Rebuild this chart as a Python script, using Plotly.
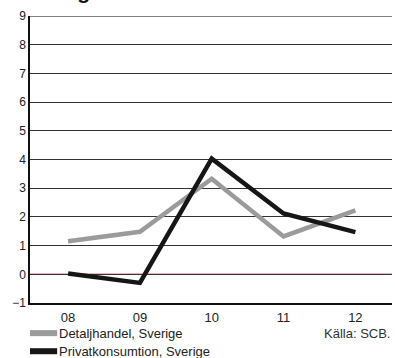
import plotly.graph_objects as go

years = ["08", "09", "10", "11", "12"]
detaljhandel = [1.15, 1.48, 3.33, 1.32, 2.23]
privatkonsumtion = [0.03, -0.3, 4.03, 2.12, 1.47]
y_ticks = list(range(-1, 10))

FONT = "Liberation Sans, Arial, sans-serif"
xs = list(range(len(years)))

fig = go.Figure()
fig.add_trace(go.Scatter(x=xs, y=detaljhandel, mode="lines", name="Detaljhandel, Sverige",
                         line=dict(color="#9b9b9b", width=4.5), showlegend=False))
fig.add_trace(go.Scatter(x=xs, y=privatkonsumtion, mode="lines", name="Privatkonsumtion, Sverige",
                         line=dict(color="#161616", width=4.5), showlegend=False))

# zero line
fig.add_shape(type="line", xref="paper", x0=0, x1=1, yref="y", y0=0, y1=0,
              line=dict(color="#e07070", width=1.5), layer="below")
# top line at 9
fig.add_shape(type="line", xref="paper", x0=0, x1=1, yref="y", y0=9, y1=9,
              line=dict(color="#808080", width=2), layer="below")

# manual legend
legend_items = [("Detaljhandel, Sverige", "#9b9b9b", -0.105), ("Privatkonsumtion, Sverige", "#161616", -0.168)]
for label, color, yp in legend_items:
    fig.add_shape(type="line", xref="paper", yref="paper", x0=0.0, x1=0.075, y0=yp, y1=yp,
                  line=dict(color=color, width=6))
    fig.add_annotation(text=label, xref="paper", yref="paper", x=0.075, y=yp, xanchor="left",
                       yanchor="middle", showarrow=False, font=dict(family=FONT, size=13, color="#222"))

fig.add_annotation(text="Källa: SCB.", xref="paper", yref="paper", x=1.0, y=-0.105, xanchor="right",
                   yanchor="middle", showarrow=False, font=dict(family=FONT, size=13, color="#333"))

# cropped title
fig.add_annotation(text="<b>Utveckling</b>", xref="paper", yref="paper", x=0.17, y=1.0, yshift=11,
                   xanchor="right", yanchor="bottom", showarrow=False,
                   font=dict(family=FONT, size=21, color="#111"))

fig.update_layout(
    width=395, height=358,
    margin=dict(l=30, r=3, t=16, b=55),
    paper_bgcolor="white", plot_bgcolor="white",
    font=dict(family=FONT, size=13, color="#222"),
    showlegend=False,
)
fig.update_xaxes(range=[-0.53, 4.51], tickvals=xs, ticktext=years, showgrid=False,
                 showline=True, linecolor="#111", linewidth=1.5, ticks="", zeroline=False,
                 ticklabelstandoff=2,
                 tickfont=dict(family=FONT, size=13, color="#222"))
fig.update_yaxes(range=[-1, 9], tickvals=y_ticks, showgrid=True, gridcolor="#333", gridwidth=1,
                 showline=True, linecolor="#111", linewidth=1.5, ticks="", zeroline=False,
                 tickfont=dict(family=FONT, size=12, color="#222"))

fig.write_html("out.html", config={"displayModeBar": False},
               post_script="document.body.style.margin='0';document.body.style.overflow='hidden';")
